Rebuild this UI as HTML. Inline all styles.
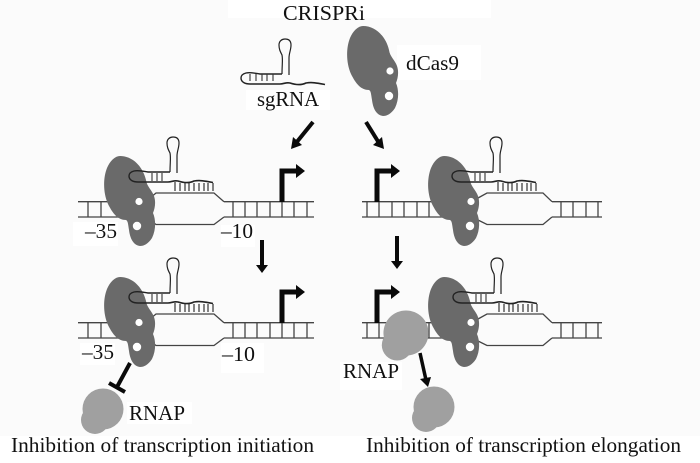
<!DOCTYPE html>
<html><head><meta charset="utf-8"><style>
html,body{margin:0;padding:0;background:#fbfbfb;width:700px;height:463px;overflow:hidden}
svg{display:block}
text{font-family:"Liberation Serif",serif;fill:#111}
</style></head><body>
<svg width="700" height="463" viewBox="0 0 700 463" xmlns="http://www.w3.org/2000/svg">
<defs>
<path id="cas" d="M363,26 C376,26 386,37 389,50 C390,57 395,60 397,66 C399,72 398,78 396,83 C399,90 399,100 395,108 C391,114 387,116 383,116 C376,115 373,108 372,100 C371,94 371,91 369,90 C361,90 356,84 351,74 C346,63 346,48 350,38 C353,31 358,26 363,26 Z" fill="#6a6a6a"/>
<g id="stem" fill="none" stroke="#222" stroke-width="1.2">
<path d="M170,172 C170,162 171,158 170,153 C168,149 167,147 167,143 C167,139 170,137 173,137 C177,137 179,139 179,143 C179,148 177,151 177,156 L177,173"/>
<path d="M170,172 H148 C142,171 138,170 134,171 C130,172 129,174 129,176 C129,180 133,182 138,182 H168" stroke-width="1.4"/>
<path d="M168,182 C172,182 174,180 178,181 C184,183 190,183 194,181 C200,180 205,181 213,182.5" stroke-width="1.6"/>
</g>
<g id="looprungs" stroke="#333" stroke-width="1.1"><path d="M152,173V181M157,173V181M162,173V181"/></g>
<g id="guide" stroke="#333" stroke-width="1.2"><path d="M175,182V191M180,183V191M185,183V191M189,183V191M194,183V191M199,183V191M204,183V191M208,183V191M213,183V191"/></g>
<g id="d1" fill="none" stroke="#444" stroke-width="1.3">
<path d="M78,201.7H150M78,217H150M224,201.7H314M224,217H314"/>
<path d="M150,198L156,193H214L224,201.7M150,220L156,224.5H214L224,217"/>
<path d="M88,202V217M101,202V217M233,202V217M245,202V217M257,202V217M270,202V217M282,202V217M294,202V217M307,202V217"/>
</g>
<g id="d2" fill="none" stroke="#444" stroke-width="1.3">
<path d="M362,201.7H445M362,217H445M552,201.7H602M552,217H602"/>
<path d="M478,198L487,193H543L552,201.7M478,220L487,224.5H543L552,217"/>
<path d="M367,202V217M379,202V217M392,202V217M404,202V217M417,202V217M429,202V217M561,202V217M573,202V217M586,202V217M598,202V217"/>
</g>
<path id="prom" d="M-2.5,0V-33.5H14V-38L23,-31L14,-24V-28.5H2.5V0Z" fill="#0a0a0a"/>
<g id="rnap" fill="#a0a0a0"><circle cx="0" cy="0" r="20.5"/><circle cx="-8" cy="11" r="14"/></g>
</defs>

<rect x="228" y="0" width="263" height="18" fill="#fff"/>
<rect x="397" y="45" width="84" height="35" fill="#fff"/>
<rect x="246" y="90" width="84" height="20" fill="#fff"/>
<rect x="73" y="222" width="45" height="24" fill="#fff"/>
<rect x="221" y="225" width="34" height="22" fill="#fff"/>
<rect x="80" y="343" width="35" height="22" fill="#fff"/>
<rect x="221" y="343" width="43" height="30" fill="#fff"/>
<rect x="127" y="402" width="65" height="22" fill="#fff"/>
<rect x="340" y="362" width="62" height="28" fill="#fff"/>
<rect x="0" y="436" width="700" height="27" fill="#fff"/>

<!-- top -->
<use href="#cas"/>
<circle cx="390" cy="71" r="3.6" fill="#fff"/><circle cx="389" cy="96" r="4.2" fill="#fff"/>
<use href="#stem" transform="translate(112,-98)"/>
<path d="M250,74V81M256,74V81M262,74V81M267,74V81M273,74V81" stroke="#333" stroke-width="1.1"/>

<!-- panel 1 -->
<use href="#d1"/>
<use href="#looprungs"/><use href="#guide"/>
<use href="#cas" transform="translate(-243,130)"/>
<circle cx="139" cy="201.5" r="3.6" fill="#fff"/><circle cx="137" cy="226" r="4.2" fill="#fff"/>
<use href="#stem"/>
<use href="#prom" transform="translate(282,202)"/>

<!-- panel 2 -->
<use href="#d2"/>
<g transform="translate(323,0)"><use href="#looprungs"/><use href="#guide"/></g>
<use href="#cas" transform="translate(81,130)"/>
<circle cx="471" cy="201.5" r="3.6" fill="#fff"/><circle cx="470" cy="226" r="4.2" fill="#fff"/>
<use href="#stem" transform="translate(323,0)"/>
<use href="#prom" transform="translate(377,202)"/>

<!-- panel 3 -->
<use href="#d1" transform="translate(0,121)"/>
<g transform="translate(0,121)"><use href="#looprungs"/><use href="#guide"/></g>
<use href="#cas" transform="translate(-243,251)"/>
<circle cx="139" cy="322.5" r="3.6" fill="#fff"/><circle cx="137" cy="347" r="4.2" fill="#fff"/>
<use href="#stem" transform="translate(0,121)"/>
<use href="#prom" transform="translate(282,323)"/>

<!-- panel 4 -->
<use href="#d2" transform="translate(0,121)"/>
<g transform="translate(324,121)"><use href="#looprungs"/><use href="#guide"/></g>
<use href="#cas" transform="translate(81,251)"/>
<circle cx="471" cy="322.5" r="3.6" fill="#fff"/><circle cx="470" cy="347" r="4.2" fill="#fff"/>
<use href="#stem" transform="translate(324,121)"/>
<use href="#prom" transform="translate(377,323)"/>
<use href="#rnap" transform="translate(406,333) scale(1.1)"/>
<use href="#rnap" transform="translate(434,407)"/>
<use href="#rnap" transform="translate(103,409)"/>

<!-- arrows -->
<g stroke="#0a0a0a" stroke-width="4" fill="none">
<path d="M313,122L296,143"/>
<path d="M366,122L379,143"/>
<path d="M262,240V266"/>
<path d="M397,236V262"/>
<path d="M130,363L117,387"/>
<path d="M109,383L125,392"/>
<path d="M420,353L426,380" stroke-width="3.5"/>
</g>
<g fill="#0a0a0a">
<path d="M291,149L293,137L302,145Z"/>
<path d="M384,149L373,145L382,137Z"/>
<path d="M262,273L256,265H268Z"/>
<path d="M397,269L391,261H403Z"/>
<path d="M428,387L420,379L431,377Z"/>
</g>

<!-- labels -->
<text x="283" y="20" font-size="21" textLength="82" lengthAdjust="spacingAndGlyphs">CRISPRi</text>
<text x="406" y="70" font-size="21" textLength="53" lengthAdjust="spacingAndGlyphs">dCas9</text>
<text x="257" y="106" font-size="21" textLength="62" lengthAdjust="spacingAndGlyphs">sgRNA</text>
<text x="85" y="238" font-size="21" textLength="32" lengthAdjust="spacingAndGlyphs">–35</text>
<text x="221" y="238" font-size="21" textLength="32" lengthAdjust="spacingAndGlyphs">–10</text>
<text x="82" y="359" font-size="21" textLength="32" lengthAdjust="spacingAndGlyphs">–35</text>
<text x="222" y="361" font-size="21" textLength="33" lengthAdjust="spacingAndGlyphs">–10</text>
<text x="129" y="420" font-size="21" textLength="56" lengthAdjust="spacingAndGlyphs">RNAP</text>
<text x="343" y="378" font-size="21" textLength="56" lengthAdjust="spacingAndGlyphs">RNAP</text>
<text x="11" y="452" font-size="21" textLength="303" lengthAdjust="spacingAndGlyphs">Inhibition of transcription initiation</text>
<text x="366" y="452" font-size="21" textLength="315" lengthAdjust="spacingAndGlyphs">Inhibition of transcription elongation</text>
</svg>
</body></html>
